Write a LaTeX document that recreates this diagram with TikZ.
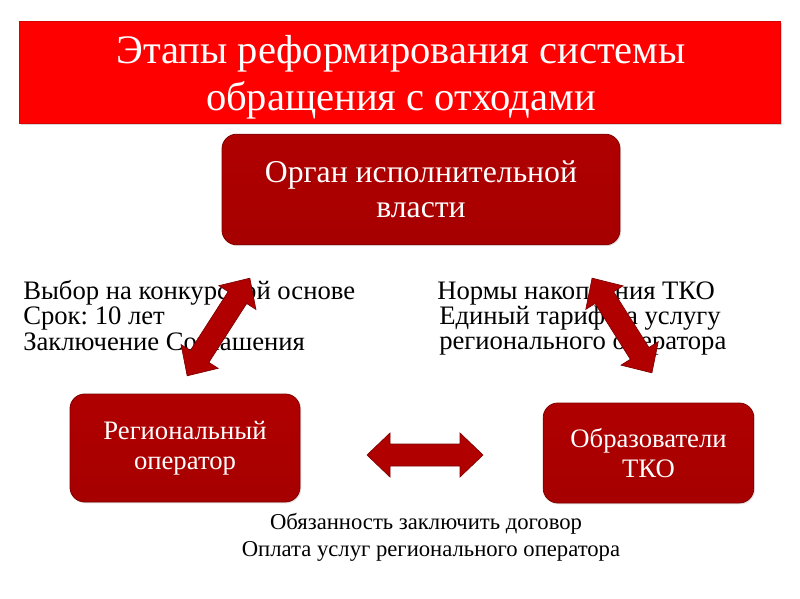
\documentclass[tikz,border=0pt]{standalone}
\usepackage{fontspec}
\setmainfont{Liberation Serif}
\frenchspacing
\usetikzlibrary{shadows}
\definecolor{titlered}{HTML}{FF0000}
\definecolor{boxtop}{HTML}{B00000}
\definecolor{boxbot}{HTML}{A60000}
\definecolor{boxedge}{HTML}{800000}
\definecolor{arrowred}{HTML}{B00000}
\newcommand\blockarrow[3]{% center, angle, length
  \begin{scope}[shift={#1},rotate=#2]
    \pgfmathsetmacro\hl{#3/2}
    \fill[arrowfill] (-\hl,0) -- (-\hl+23,22) -- (-\hl+23,11) -- (\hl-23,11) -- (\hl-23,22)
      -- (\hl,0) -- (\hl-23,-22) -- (\hl-23,-11) -- (-\hl+23,-11) -- (-\hl+23,-22) -- cycle;
  \end{scope}}
\begin{document}
\begin{tikzpicture}[x=0.75pt,y=-0.75pt,
  titlebar/.style={fill=titlered, draw=titlered!85!black, line width=0.4pt,
    drop shadow={shadow xshift=1.5pt, shadow yshift=-1.5pt, opacity=0.3}},
  redbox/.style={rounded corners=11pt, top color=boxtop, bottom color=boxbot,
    draw=boxedge, line width=0.6pt, text=white, align=center,
    drop shadow={shadow xshift=1pt, shadow yshift=-1pt, opacity=0.2}},
  arrowfill/.style={fill=arrowred, draw=boxedge, line width=0.5pt},
  sidetext/.style={font=\fontsize{20}{18.75}\selectfont, anchor=base west, inner sep=0pt},
  bottomtext/.style={font=\fontsize{17}{20}\selectfont, anchor=base, inner sep=0pt}]
\useasboundingbox (0,0) rectangle (800,599);
\fill[white] (0,0) rectangle (800,599);

% title
\filldraw[titlebar] (19,21) rectangle (780,123);
\node[text=white, align=center, font=\fontsize{30.4}{35.5}\selectfont] (title) at (401,77.5)
  {Этапы реформирования системы\\обращения с отходами};

% side texts (under arrows)
\node[sidetext] (l1) at (23,299) {Выбор на конкурсной основе};
\node[sidetext] (l2) at (23,324) {Срок: 10 лет};
\node[sidetext] (l3) at (23,350) {Заключение Соглашения};
\node[sidetext] (r1) at (437,299) {Нормы накопления ТКО};
\node[sidetext] (r2) at (439,324) {Единый тариф на услугу};
\node[sidetext] (r3) at (439,349) {регионального оператора};

% boxes
\node[redbox, font=\fontsize{23.8}{26.25}\selectfont,
  minimum width=298.5pt, minimum height=83pt] (gov) at (421,189.5)
  {Орган исполнительной\\власти};
\node[redbox, font=\fontsize{20}{22.5}\selectfont,
  minimum width=172.5pt, minimum height=81pt] (op) at (185,448)
  {Региональный\\оператор};
\node[redbox, font=\fontsize{20}{22.5}\selectfont,
  minimum width=158pt, minimum height=75pt] (gen) at (648.5,453)
  {Образователи\\ТКО};

% arrows
\coordinate (a1) at (218.5,327);
\coordinate (a2) at (622,325.5);
\coordinate (a3) at (425,455);
\blockarrow{(a1)}{57.3}{116}
\blockarrow{(a2)}{-57.7}{112}
\blockarrow{(a3)}{0}{116}

% bottom text
\node[bottomtext] (b1) at (426,529) {Обязанность заключить договор};
\node[bottomtext] (b2) at (431,556) {Оплата услуг регионального оператора};
\end{tikzpicture}
\end{document}
